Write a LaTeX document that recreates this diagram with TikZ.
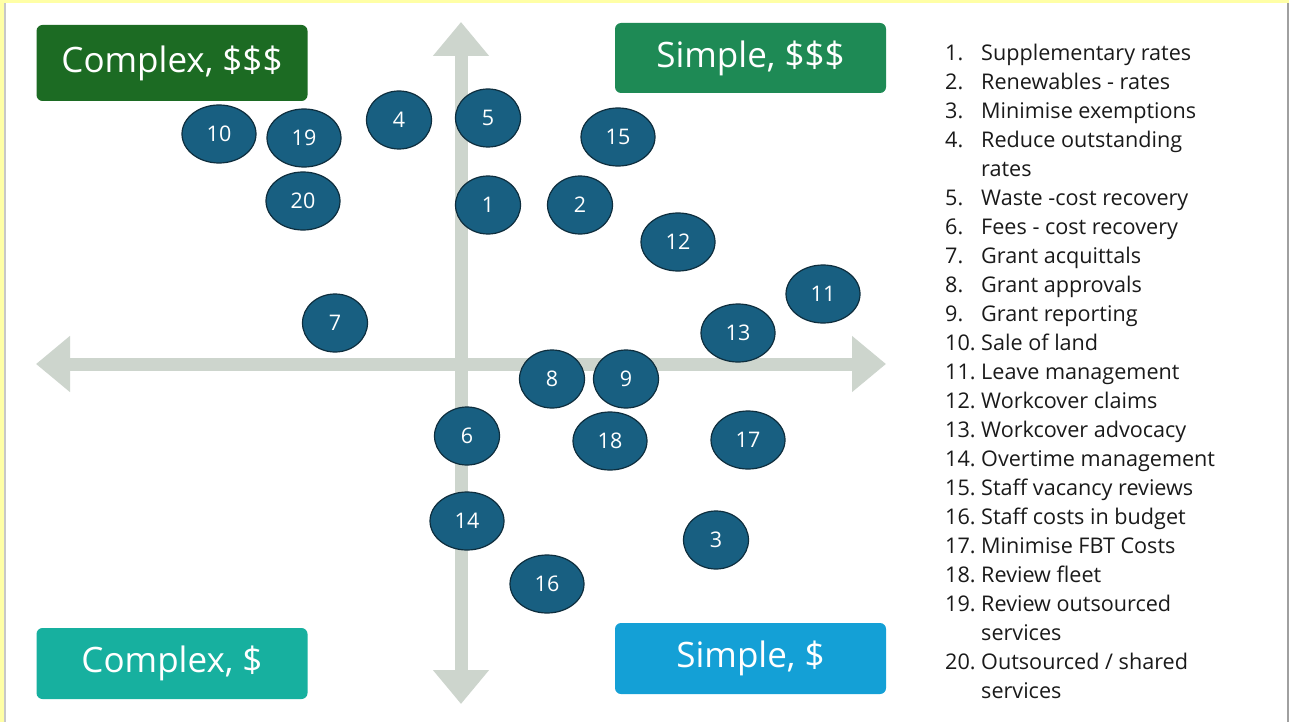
\documentclass[tikz,border=0pt]{standalone}
\usepackage{fontspec}
\setmainfont{Open Sans}
\usepackage{xcolor}
\usetikzlibrary{arrows.meta,shapes.geometric}

\definecolor{bandyellow}{HTML}{FFFFA6}
\definecolor{edgegray}{HTML}{C8C8C8}
\definecolor{axisgray}{HTML}{CDD5CD}
\definecolor{itemblue}{HTML}{185F81}
\definecolor{itemline}{HTML}{0E2E3E}
\definecolor{cxhigh}{HTML}{1C6B23}
\definecolor{smhigh}{HTML}{1E8A55}
\definecolor{cxlow}{HTML}{17B09F}
\definecolor{smlow}{HTML}{14A0D6}
\definecolor{legendtext}{HTML}{1A1A1A}

\tikzset{
  quad/.style={rounded corners=6pt, text=white, inner sep=0,
    minimum width=271pt, font=\fontsize{35}{40}\selectfont},
  item/.style={ellipse, draw=itemline, fill=itemblue, line width=1.2pt, text=white,
    inner sep=0, minimum width=65pt, minimum height=58pt, font=\fontsize{21.5}{25}\selectfont},
  wide/.style={minimum width=74pt},
  axis/.style={draw=axisgray, line width=13pt,
    {Triangle[length=34pt,width=54pt]}-{Triangle[length=34pt,width=54pt]}}
}

\begin{document}
\begin{tikzpicture}[x=1pt,y=-1pt]%[every node/.style={inner sep=0,outer sep=0}]
    \useasboundingbox (0,0) rectangle (1289,722);
    \fill[bandyellow] (0,0) rectangle (1289,722);
    \fill[white] (6,3) rectangle (1287,722);
    \fill[edgegray] (4,3) rectangle (6,722);
    \fill[edgegray!80!black] (1287,3) rectangle (1289,722);

    % axes
    \coordinate(yt) at (461,22);
    \coordinate(yb) at (461,704);
    \coordinate(xl) at (36,364);
    \coordinate(xr) at (886,364);
    \draw[axis] (yb)--(yt);
    \draw[axis] (xl)--(xr);

    % quadrant labels
    \node(cxh)[quad,fill=cxhigh,minimum height=76pt] at (172,63) {Complex, \$\$\$};
    \node(smh)[quad,fill=smhigh,minimum height=70pt] at (750.5,58) {Simple, \$\$\$};
    \node(cxl)[quad,fill=cxlow,minimum height=71pt] at (172,663.5) {Complex, \$};
    \node(sml)[quad,fill=smlow,minimum height=71pt] at (750.5,658.5) {Simple, \$};

    % items
    \node(i10)[item,wide] at (219,134) {10};
    \node(i19)[item,wide] at (304,138) {19};
    \node(i4)[item] at (399,120) {4};
    \node(i5)[item] at (488,118) {5};
    \node(i15)[item,wide] at (618,137) {15};
    \node(i20)[item,wide] at (303,201) {20};
    \node(i1)[item] at (488,205) {1};
    \node(i2)[item] at (580,205) {2};
    \node(i12)[item,wide] at (678,242) {12};
    \node(i11)[item,wide] at (823,294) {11};
    \node(i7)[item] at (335,323) {7};
    \node(i13)[item,wide] at (738,333) {13};
    \node(i8)[item] at (552,379) {8};
    \node(i9)[item] at (626,379) {9};
    \node(i6)[item] at (467,436) {6};
    \node(i18)[item,wide] at (610,441) {18};
    \node(i17)[item,wide] at (748,440) {17};
    \node(i14)[item,wide] at (467,521) {14};
    \node(i3)[item] at (716,540) {3};
    \node(i16)[item,wide] at (547,584) {16};

    % legend
    \node(key)[anchor=north west,inner sep=0,text=legendtext,font=\fontsize{21.6}{29}\selectfont] at (945,39.5) {%
      \begin{tabular}{@{}p{36pt}@{}l@{}}
        1. & Supplementary rates\\
        2. & Renewables - rates\\
        3. & Minimise exemptions\\
        4. & Reduce outstanding\\
           & rates\\
        5. & Waste -cost recovery\\
        6. & Fees - cost recovery\\
        7. & Grant acquittals\\
        8. & Grant approvals\\
        9. & Grant reporting\\
        10. & Sale of land\\
        11. & Leave management\\
        12. & Workcover claims\\
        13. & Workcover advocacy\\
        14. & Overtime management\\
        15. & Staff vacancy reviews\\
        16. & Staff costs in budget\\
        17. & Minimise FBT Costs\\
        18. & Review fleet\\
        19. & Review outsourced\\
            & services\\
        20. & Outsourced / shared\\
            & services
      \end{tabular}};
\end{tikzpicture}
\end{document}
